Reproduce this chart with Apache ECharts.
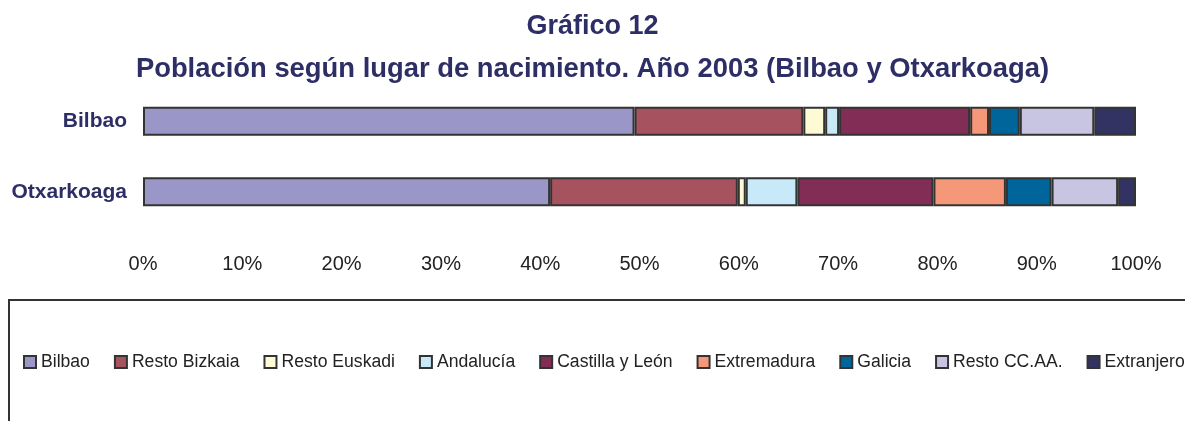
<!DOCTYPE html>
<html>
<head>
<meta charset="utf-8">
<script src="https://cdn.jsdelivr.net/npm/echarts@6/dist/echarts.min.js"></script>
<style>
  html, body { margin: 0; padding: 0; background: #fff; }
  #chart { width: 1185px; height: 421px; }
</style>
</head>
<body>
<div id="chart"></div>
<script>
// datos (porcentaje sobre el total)
const zonas = ['Bilbao', 'Otxarkoaga']
const origenes = ['Bilbao', 'Resto Bizkaia', 'Resto Euskadi', 'Andalucía', 'Castilla y León', 'Extremadura', 'Galicia', 'Resto CC.AA.', 'Extranjero']
const bilbaoData = [49.5, 17.0, 2.2, 1.4, 13.2, 1.9, 3.1, 7.5, 4.2]
const otxarkoagaData = [41.0, 18.9, 0.8, 5.2, 13.7, 7.3, 4.6, 6.7, 1.8]
const colores = ['#9B96C8', '#A6535F', '#FFFAD6', '#C7E9F8', '#812D56', '#F5987A', '#00659A', '#C8C5E2', '#333363']

const navy = '#2E2E66'
const chart = echarts.init(document.getElementById('chart'))

const series = origenes.map((nombre, i) => {
  return {
    name: nombre,
    type: 'bar',
    stack: 'total',
    barWidth: 29,
    itemStyle: { color: colores[i], borderColor: '#333', borderWidth: 2 },
    data: [bilbaoData[i], otxarkoagaData[i]]
  }
})

chart.setOption({
  animation: false,
  title: [
    {
      text: 'Gráfico 12',
      left: 'center',
      top: 8,
      textStyle: { color: navy, fontSize: 27, fontWeight: 'bold', fontFamily: 'Liberation Sans' }
    },
    {
      text: 'Población según lugar de nacimiento. Año 2003 (Bilbao y Otxarkoaga)',
      left: 'center',
      top: 51,
      textStyle: { color: navy, fontSize: 27.4, fontWeight: 'bold', fontFamily: 'Liberation Sans' }
    }
  ],
  grid: { left: 143, right: 49, top: 86, bottom: 194 },
  xAxis: {
    type: 'value',
    min: 0,
    max: 100,
    interval: 10,
    axisLine: { show: false },
    axisTick: { show: false },
    splitLine: { show: false },
    axisLabel: {
      margin: 27,
      color: '#222',
      fontSize: 20,
      fontFamily: 'Liberation Sans',
      formatter: '{value}%'
    }
  },
  yAxis: {
    type: 'category',
    inverse: true,
    data: zonas,
    axisLine: { show: false },
    axisTick: { show: false },
    axisLabel: {
      margin: 16,
      color: navy,
      fontSize: 21,
      fontWeight: 'bold',
      fontFamily: 'Liberation Sans'
    }
  },
  legend: {
    left: 23,
    top: 353,
    width: 1400,
    padding: 0,
    itemWidth: 12,
    itemHeight: 12,
    itemGap: 24,
    icon: 'rect',
    itemStyle: { borderColor: '#333', borderWidth: 2 },
    textStyle: { color: '#222', fontSize: 17.6, fontFamily: 'Liberation Sans' },
    data: origenes
  },
  graphic: [
    {
      type: 'rect',
      shape: { x: 9, y: 300, width: 1190, height: 140 },
      style: { fill: 'none', stroke: '#333', lineWidth: 2 },
      silent: true
    }
  ],
  series: series
})
</script>
</body>
</html>
